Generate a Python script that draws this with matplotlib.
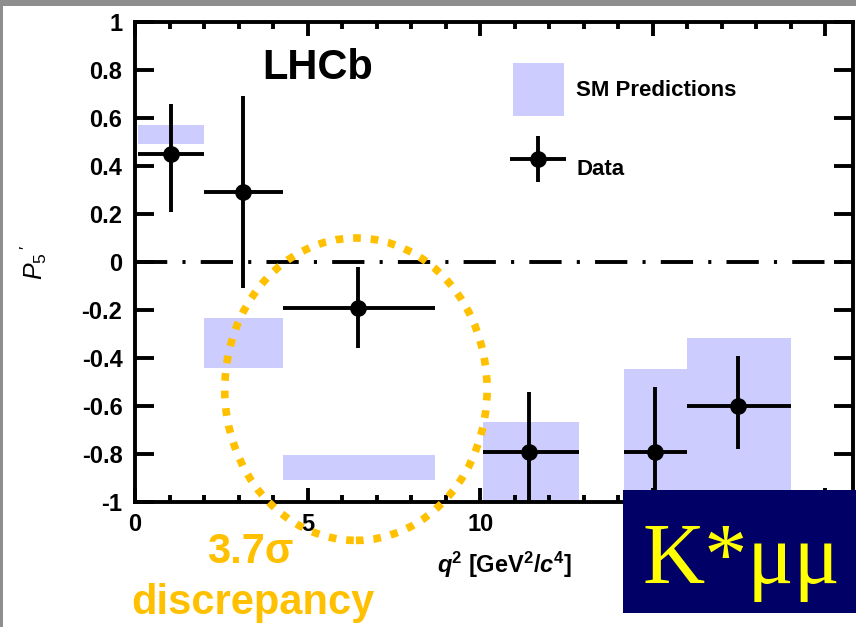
import matplotlib
matplotlib.use('Agg')
import matplotlib.pyplot as plt
from matplotlib.patches import Rectangle, Ellipse, Patch
from matplotlib.legend_handler import HandlerErrorbar
import numpy as np

plt.rcParams['font.family'] = 'Liberation Sans'
plt.rcParams['mathtext.fontset'] = 'custom'
plt.rcParams['mathtext.rm'] = 'Liberation Sans'
plt.rcParams['mathtext.it'] = 'Liberation Sans:italic'
plt.rcParams['mathtext.bf'] = 'Liberation Sans:bold'
plt.rcParams['mathtext.bfit'] = 'Liberation Sans:italic:bold'

# q^2 bins [GeV^2/c^4]
bin_lo = np.array([0.1, 2.0, 4.3, 10.09, 14.18, 16.0])
bin_hi = np.array([2.0, 4.3, 8.68, 12.86, 16.0, 19.0])

# LHCb data points
p5 = np.array([0.45, 0.29, -0.19, -0.79, -0.79, -0.60])
p5_err_up = np.array([0.21, 0.40, 0.17, 0.25, 0.27, 0.21])
p5_err_dn = np.array([0.24, 0.40, 0.17, 0.27, 0.22, 0.18])
data_x = np.array([1.05, 3.13, 6.45, 11.42, 15.06, 17.46])

# SM prediction bands (low, high)
sm_lo = np.array([0.49, -0.44, -0.91, -1.05, -1.05, -1.05])
sm_hi = np.array([0.57, -0.235, -0.805, -0.665, -0.445, -0.315])

ytick_vals = [1, 0.8, 0.6, 0.4, 0.2, 0, -0.2, -0.4, -0.6, -0.8, -1]
ytick_labels = ['1', '0.8', '0.6', '0.4', '0.2', '0', '-0.2', '-0.4', '-0.6', '-0.8', '-1']
# 15 and 20 sit under the K*mumu box in the slide
xtick_vals = [0, 5, 10, 15, 20]
xtick_labels = ['0', '5', '10', '', '']

orange = '#ffc000'
band = '#ccccff'
lw = 2.8

fig = plt.figure(figsize=(8.56, 6.27), dpi=100)
fig.patch.set_facecolor('#8e8e8e')
fig.add_artist(Rectangle((3/856, 0), 1, 1 - 6/627, transform=fig.transFigure,
                         facecolor='white', edgecolor='none', zorder=0))

ax = fig.add_axes([135/856, 1 - 502/627, 718/856, 480/627])
ax.set_xlim(0, 20.8)
ax.set_ylim(-1, 1)

ax.bar(bin_lo, sm_hi - sm_lo, width=bin_hi - bin_lo, bottom=sm_lo,
       align='edge', color=band, edgecolor='none', zorder=1)

ax.axhline(0, color='k', lw=lw, linestyle=(0, (8.3, 3.9, 0.8, 3.9)), zorder=2)

xerr = np.vstack([data_x - bin_lo, bin_hi - data_x])
eb = ax.errorbar(data_x, p5, xerr=xerr, yerr=np.vstack([p5_err_dn, p5_err_up]),
                 fmt='o', color='k', ms=11, elinewidth=lw, capsize=0, zorder=3)

sm_patch = Patch(facecolor=band, edgecolor='none')
leg = ax.legend([sm_patch, eb], ['SM Predictions', 'Data'],
                loc='upper left', bbox_to_anchor=(0.526, 0.915),
                frameon=False, borderpad=0, borderaxespad=0,
                handlelength=2.3, handleheight=3.3, handletextpad=0.55,
                labelspacing=1.2, prop={'weight': 'bold', 'size': 16},
                handler_map={type(eb): HandlerErrorbar(xerr_size=1.25, yerr_size=1.05)})

ax.text(0.177, 0.881, 'LHCb', transform=ax.transAxes, fontsize=30,
        fontweight='bold', va='baseline', ha='left')

ax.set_yticks(ytick_vals)
ax.set_yticklabels(ytick_labels)
ax.set_xticks(xtick_vals)
ax.set_xticklabels(xtick_labels)
ax.set_xticks(np.arange(0, 21, 1), minor=True)
ax.tick_params(axis='y', which='major', direction='in', length=14, width=lw,
               left=True, right=True, labelsize=17, pad=9)
ax.tick_params(axis='x', which='major', direction='in', length=10, width=lw,
               top=True, bottom=True, labelsize=17, pad=8)
ax.tick_params(axis='x', which='minor', direction='in', length=5, width=lw,
               top=True, bottom=True)
for lab in ax.get_xticklabels() + ax.get_yticklabels():
    lab.set_fontweight('bold')
for s in ax.spines.values():
    s.set_linewidth(lw)

ax.set_ylabel(r"$P_5\,'$", fontsize=18)
ax.yaxis.set_label_coords(-0.12, 0.5)
ax.set_xlabel(r"$\mathbfit{q}^{\mathbf{2}}$ [GeV$^{\mathbf{2}}$/$\mathbfit{c}^{\mathbf{4}}$]",
              fontsize=17, fontweight='bold')
ax.xaxis.set_label_coords(0.514, -0.1)

ell = Ellipse((6.4, -0.53), 7.6, 1.26, fill=False, edgecolor=orange, lw=5.5,
              linestyle=(0, (1, 1.3)), clip_on=False, zorder=5)
ax.add_patch(ell)

fig.text(250/856, 1 - 552/627, '3.7\u03c3', color=orange, fontsize=30,
         fontweight='bold', ha='center', va='center')
fig.text(253/856, 1 - 603/627, 'discrepancy', color=orange, fontsize=30,
         fontweight='bold', ha='center', va='center')

fig.add_artist(Rectangle((623/856, 1 - 613/627), 233/856, 123/627,
                         transform=fig.transFigure, facecolor='#000066',
                         edgecolor='none', zorder=3))
fig.text(741/856, 1 - 583/627, 'K*\u03bc\u03bc', color='#ffff00', fontsize=62,
         family='Liberation Serif', ha='center', va='baseline', zorder=4)

fig.savefig('out.png', dpi=100, facecolor=fig.get_facecolor())
